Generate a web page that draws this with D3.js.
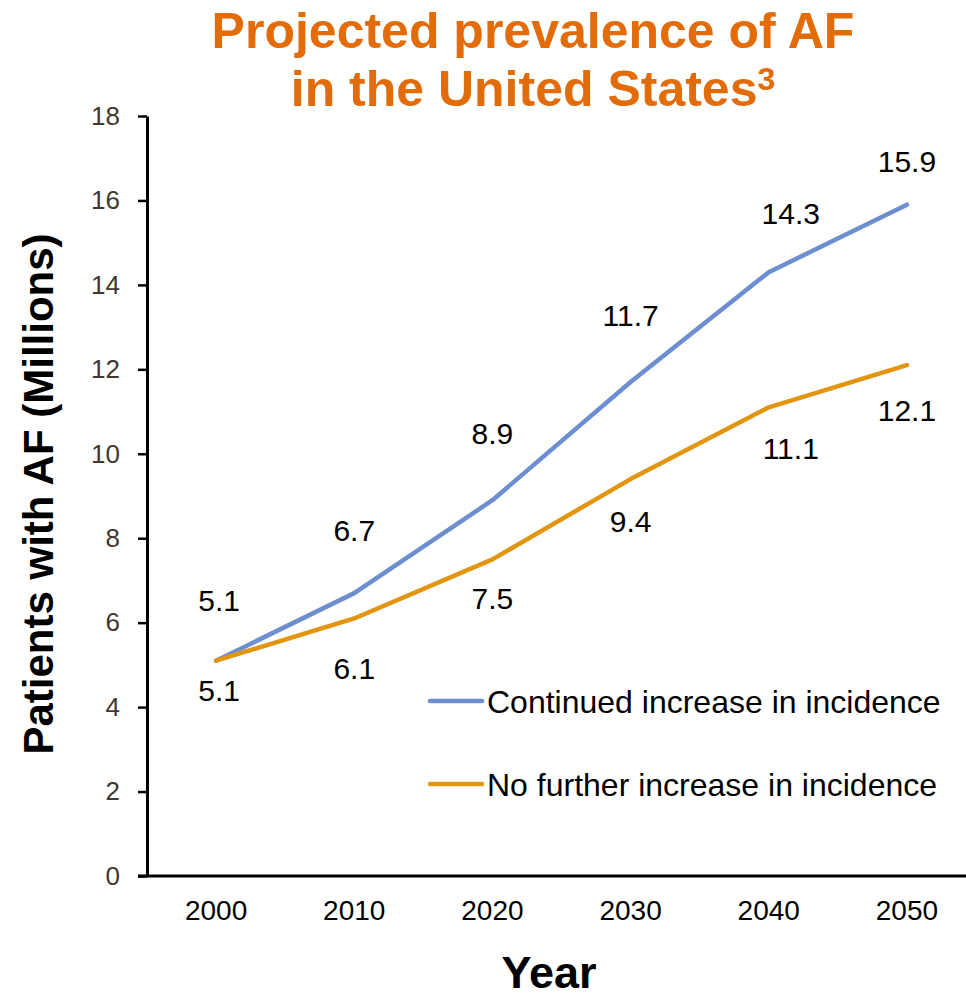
<!DOCTYPE html>
<html>
<head>
<meta charset="utf-8">
<script src="https://cdn.jsdelivr.net/npm/d3@7"></script>
<style>
  html, body { margin: 0; padding: 0; background: #fff; }
  svg { display: block; font-family: "Liberation Sans", Arial, sans-serif; }
</style>
</head>
<body>
<svg id="chart" width="966" height="997"></svg>
<script>
// Projected prevalence of atrial fibrillation, millions of patients
const years = ["2000", "2010", "2020", "2030", "2040", "2050"];
const continuedIncrease = [5.1, 6.7, 8.9, 11.7, 14.3, 15.9];
const noFurtherIncrease = [5.1, 6.1, 7.5, 9.4, 11.1, 12.1];
const yTicks = [0, 2, 4, 6, 8, 10, 12, 14, 16, 18];
const seriesNames = ["Continued increase in incidence", "No further increase in incidence"];

const svg = d3.select("#chart");
const plotLeft = 147, plotRight = 976, plotTop = 116, plotBottom = 876;

const x = d3.scaleBand().domain(years).range([plotLeft, plotRight]);
const y = d3.scaleLinear().domain([0, 18]).range([plotBottom, plotTop]);
const cx = d => x(d) + x.bandwidth() / 2;

// Title
const title = svg.append("text")
  .attr("x", 533).attr("text-anchor", "middle")
  .attr("fill", "#E36C0A").attr("font-weight", "bold").attr("font-size", 50);
title.append("tspan").attr("x", 533).attr("y", 48).text("Projected prevalence of AF");
title.append("tspan").attr("x", 533).attr("y", 106).text("in the United States");
title.append("tspan").attr("dy", -16).attr("font-size", 32).text("3");

// Y axis
const yAxis = svg.append("g")
  .attr("transform", `translate(${plotLeft},0)`)
  .call(d3.axisLeft(y).tickValues(yTicks).tickSize(9).tickPadding(18).tickSizeOuter(0));
yAxis.select(".domain").attr("stroke", "#000").attr("stroke-width", 3);
yAxis.selectAll(".tick line").attr("stroke", "#000").attr("stroke-width", 2.5);
yAxis.selectAll(".tick text").attr("font-size", 26).attr("fill", "#40382F")
  .attr("font-family", "Liberation Sans, Arial, sans-serif");

// X axis
const xAxis = svg.append("g")
  .attr("transform", `translate(0,${plotBottom})`)
  .call(d3.axisBottom(x).tickSize(0).tickPadding(24).tickSizeOuter(0));
xAxis.select(".domain").attr("stroke", "#000").attr("stroke-width", 3)
  .attr("d", `M${plotLeft - 9},0H${plotRight}`);
xAxis.selectAll(".tick text").attr("font-size", 28).attr("fill", "#000")
  .attr("font-family", "Liberation Sans, Arial, sans-serif");

// Axis titles
svg.append("text")
  .attr("transform", "translate(53,494) rotate(-90)")
  .attr("text-anchor", "middle").attr("font-weight", "bold").attr("font-size", 42)
  .attr("fill", "#000").text("Patients with AF (Millions)");
svg.append("text")
  .attr("x", 549).attr("y", 988).attr("text-anchor", "middle")
  .attr("font-weight", "bold").attr("font-size", 45).attr("fill", "#000").text("Year");

// Lines
const line = d3.line().x((d, i) => cx(years[i])).y(d => y(d));
const colors = ["#6D8ECF", "#E2960F"];
[continuedIncrease, noFurtherIncrease].forEach((s, k) => {
  svg.append("path").datum(s)
    .attr("d", line).attr("fill", "none")
    .attr("stroke", colors[k]).attr("stroke-width", 4.5)
    .attr("stroke-linejoin", "round").attr("stroke-linecap", "round");
});

// Data labels: offsets of each label from its point
const upperOffsets = [[3, -60], [0, -63], [0, -67], [0, -67], [22, -59], [0, -43]];
const lowerOffsets = [[3, 30], [0, 50], [0, 39], [0, 42], [22, 41], [0, 45]];
const labels = svg.append("g").attr("font-size", 30).attr("fill", "#000").attr("text-anchor", "middle");
continuedIncrease.forEach((v, i) => {
  labels.append("text")
    .attr("x", cx(years[i]) + upperOffsets[i][0])
    .attr("y", y(v) + upperOffsets[i][1])
    .attr("dy", "0.36em").text(v.toFixed(1));
});
noFurtherIncrease.forEach((v, i) => {
  labels.append("text")
    .attr("x", cx(years[i]) + lowerOffsets[i][0])
    .attr("y", y(v) + lowerOffsets[i][1])
    .attr("dy", "0.36em").text(v.toFixed(1));
});

// Legend
const legend = svg.append("g");
seriesNames.forEach((name, k) => {
  const ly = 701 + k * 83;
  legend.append("line")
    .attr("x1", 430).attr("x2", 482).attr("y1", ly).attr("y2", ly)
    .attr("stroke", colors[k]).attr("stroke-width", 4.5).attr("stroke-linecap", "round");
  legend.append("text")
    .attr("x", 487).attr("y", ly).attr("dy", "0.36em")
    .attr("font-size", 32).attr("fill", "#000").text(name);
});
</script>
</body>
</html>
